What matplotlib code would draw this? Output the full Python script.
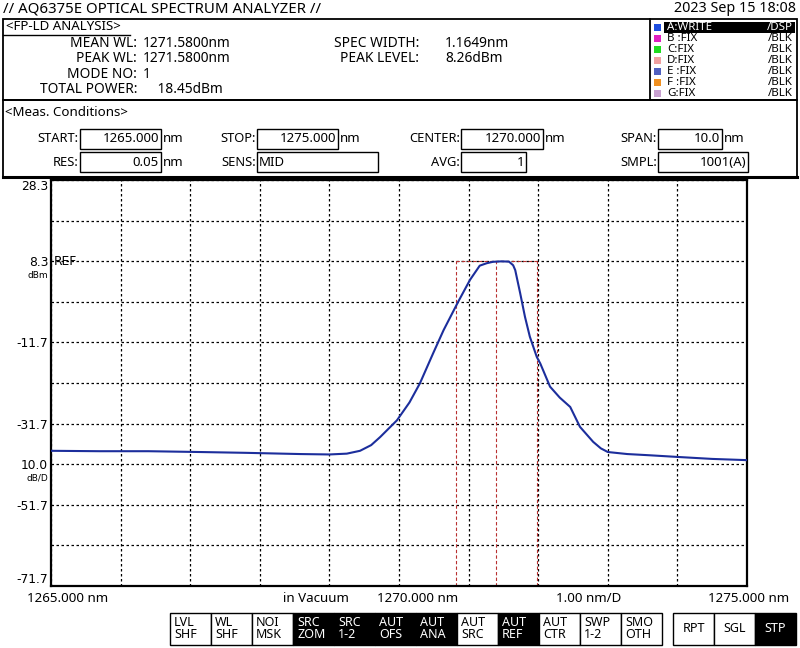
import matplotlib
matplotlib.use("Agg")
import matplotlib.pyplot as plt
from matplotlib.patches import Rectangle

plt.rcParams['font.family'] = ['Noto Sans', 'DejaVu Sans']

# trace A
wavelength_nm = [1265.00, 1265.70, 1266.40, 1267.14, 1267.80, 1268.58, 1269.00, 1269.25,
                 1269.44, 1269.60, 1269.73, 1269.97, 1270.15, 1270.30, 1270.49, 1270.64,
                 1270.85, 1271.02, 1271.16, 1271.26, 1271.35, 1271.47, 1271.58, 1271.64,
                 1271.67, 1271.74, 1271.81, 1271.88, 1271.98, 1272.03, 1272.17, 1272.31,
                 1272.46, 1272.60, 1272.79, 1272.90, 1273.00, 1273.28, 1273.60, 1273.99,
                 1274.50, 1275.00]
level_dbm = [-38.4, -38.5, -38.5, -38.7, -38.9, -39.2, -39.3, -39.1,
             -38.4, -37.0, -35.0, -30.9, -26.5, -21.8, -14.4, -8.7,
             -1.7, 3.7, 7.2, 7.8, 8.15, 8.26, 8.2, 7.3,
             6.1, 0.5, -5.4, -10.3, -15.3, -16.9, -22.6, -25.3,
             -27.6, -32.5, -36.2, -37.8, -38.7, -39.2, -39.5, -39.9,
             -40.4, -40.7]

# analysis markers
marker_left = 1270.82
marker_center = 1271.40
marker_right = 1271.98
marker_level = 8.26

x_start, x_stop = 1265.0, 1275.0
y_top, y_bottom = 28.3, -71.7
y_ticks = [28.3, 18.3, 8.3, -1.7, -11.7, -21.7, -31.7, -41.7, -51.7, -61.7, -71.7]
y_tick_labels = ['28.3', '', '8.3', '', '-11.7', '', '-31.7', '10.0', '-51.7', '', '-71.7']

title = '// AQ6375E OPTICAL SPECTRUM ANALYZER //'
timestamp = '2023 Sep 15 18:08'

analysis_left = [('MEAN WL:', '1271.5800nm'), ('PEAK WL:', '1271.5800nm'),
                 ('MODE NO:', '1'), ('TOTAL POWER:', '    18.45dBm')]
analysis_right = [('SPEC WIDTH:', '1.1649nm'), ('PEAK LEVEL:', '8.26dBm')]

trace_names = ['A:WRITE', 'B :FIX', 'C:FIX', 'D:FIX', 'E :FIX', 'F :FIX', 'G:FIX']
trace_states = ['/DSP', '/BLK', '/BLK', '/BLK', '/BLK', '/BLK', '/BLK']
trace_colors = ['#1f4fe0', '#e020c0', '#20dd20', '#f0a0a0', '#5060c0', '#f09020', '#c8a0d0']

# label, value, unit, label right edge, box left, box right, row, value align
meas_fields = [
    ('START:', '1265.000', 'nm', 78, 80, 161, 0, 'right'),
    ('RES:', '0.05', 'nm', 78, 80, 161, 1, 'right'),
    ('STOP:', '1275.000', 'nm', 256, 257, 338, 0, 'right'),
    ('SENS:', 'MID', '', 256, 257, 378, 1, 'left'),
    ('CENTER:', '1270.000', 'nm', 460, 461, 543, 0, 'right'),
    ('AVG:', '1', '', 460, 461, 526, 1, 'right'),
    ('SPAN:', '10.0', 'nm', 657, 658, 722, 0, 'right'),
    ('SMPL:', '1001(A)', '', 657, 658, 748, 1, 'right'),
]

soft_keys = [('LVL', 'SHF'), ('WL', 'SHF'), ('NOI', 'MSK'), ('SRC', 'ZOM'), ('SRC', '1-2'),
             ('AUT', 'OFS'), ('AUT', 'ANA'), ('AUT', 'SRC'), ('AUT', 'REF'), ('AUT', 'CTR'),
             ('SWP', '1-2'), ('SMO', 'OTH')]
soft_keys_on = [False, False, False, True, True, True, True, False, True, False, False, False]
sweep_keys = ['RPT', 'SGL', 'STP']
sweep_keys_on = [False, False, True]

W, H = 800, 648
fig = plt.figure(figsize=(W / 100, H / 100), dpi=100)
fig.patch.set_facecolor('white')

# overlay in screen pixels
scr = fig.add_axes([0, 0, 1, 1])
scr.set_xlim(0, W)
scr.set_ylim(H, 0)
scr.axis('off')


def box(x0, y0, x1, y1, lw=1.0, fc='none', ec='black'):
    scr.add_patch(Rectangle((x0, y0), x1 - x0, y1 - y0, fill=fc != 'none',
                            facecolor=fc, edgecolor=ec, lw=lw))


def txt(x, y, s, size=8.5, ha='left', color='black', **kw):
    scr.text(x, y, s, fontsize=size, ha=ha, va='center', color=color, **kw)


txt(3, 9, title, size=10.8)
txt(796, 9, timestamp, size=10.3, ha='right')

# analysis panel
box(3, 19, 797, 100, lw=1.3)
scr.plot([650, 650], [19, 100], color='black', lw=1.3)
txt(6, 27, '<FP-LD ANALYSIS>', size=9.6)
scr.plot([3, 130], [34.5, 34.5], color='black', lw=1.0)
for i, (lab, val) in enumerate(analysis_left):
    y = 43.5 + i * 15.3
    txt(137, y, lab, size=9.9, ha='right')
    txt(143, y, val, size=9.9)
for i, (lab, val) in enumerate(analysis_right):
    y = 43.5 + i * 15.3
    txt(419, y, lab, size=9.9, ha='right')
    txt(445, y, val, size=9.9)

for i, (name, state, col) in enumerate(zip(trace_names, trace_states, trace_colors)):
    y = 27.5 + i * 11
    scr.add_patch(Rectangle((654, y - 3.5), 7, 7, facecolor=col, edgecolor='none'))
    fg = 'black'
    if i == 0:
        scr.add_patch(Rectangle((664, y - 5.5), 131, 11, facecolor='black', edgecolor='none'))
        fg = 'white'
    txt(667, y, name, size=8.3, color=fg)
    txt(793, y, state, size=8.3, ha='right', color=fg)

# measurement conditions panel
box(3, 100, 797, 177, lw=1.3)
scr.plot([3, 797], [177, 177], color='black', lw=2.2)
txt(5, 113, '<Meas. Conditions>', size=9.6)
for lab, val, unit, lx, bx0, bx1, row, align in meas_fields:
    yc = 138.5 + row * 23.5
    box(bx0, yc - 10, bx1, yc + 10, lw=1.0)
    txt(lx, yc, lab, size=9.3, ha='right')
    if align == 'right':
        txt(bx1 - 2, yc, val, size=9.5, ha='right')
    else:
        txt(bx0 + 2, yc, val, size=9.5)
    if unit:
        txt(bx1 + 2, yc, unit, size=9.5)

# spectrum
ax = fig.add_axes([51 / W, 1 - 586 / H, 696 / W, 406 / H])
ax.set_xlim(x_start, x_stop)
ax.set_ylim(y_bottom, y_top)
ax.set_xticks([x_start + k for k in range(11)])
ax.set_xticklabels([])
ax.set_yticks(y_ticks)
ax.set_yticklabels(y_tick_labels, fontsize=8.8, family='DejaVu Sans')
ax.tick_params(length=0, pad=2)
ax.grid(True, color='black', linestyle=(0, (2, 2)), lw=0.9)
for s in ax.spines.values():
    s.set_color('black')
    s.set_linewidth(1.6)
labels = ax.get_yticklabels()
labels[0].set_va('top')
labels[-1].set_va('bottom')

red = '#b83030'
ax.plot([marker_left, marker_right], [marker_level, marker_level], color=red,
        lw=0.8, linestyle=(0, (3, 2)))
for xm in (marker_left, marker_center, marker_right):
    ax.plot([xm, xm], [y_bottom, marker_level], color=red, lw=0.8, linestyle=(0, (3, 2)))

ax.plot(wavelength_nm, level_dbm, color='#1c2e9c', lw=1.5, zorder=5)

ax.text(0.004, 8.3, 'REF', transform=ax.get_yaxis_transform(), fontsize=8.8,
        family='DejaVu Sans', ha='left', va='center')
ax.text(-0.004, 8.3 - 2.4, 'dBm', transform=ax.get_yaxis_transform(), fontsize=6.5,
        family='DejaVu Sans', ha='right', va='top')
ax.text(-0.004, -41.7 - 2.4, 'dB/D', transform=ax.get_yaxis_transform(), fontsize=6.5,
        family='DejaVu Sans', ha='right', va='top')

# scale annotations
txt(27, 598, '1265.000 nm', size=9.6)
txt(283, 598, 'in Vacuum', size=9.6)
txt(377, 598, '1270.000 nm', size=9.6)
txt(556, 598, '1.00 nm/D', size=9.6)
txt(789, 598, '1275.000 nm', size=9.6, ha='right')

# soft keys
kx = 170.0
kw = 41.0
for (l1, l2), on in zip(soft_keys, soft_keys_on):
    fc = 'black' if on else 'white'
    fg = 'white' if on else 'black'
    box(kx, 613, kx + kw, 645, lw=1.0, fc=fc)
    txt(kx + 4, 623, l1, size=9, color=fg, fontweight='medium')
    txt(kx + 4, 635, l2, size=9, color=fg, fontweight='medium')
    kx += kw

kx = 673.0
for name, on in zip(sweep_keys, sweep_keys_on):
    fc = 'black' if on else 'white'
    fg = 'white' if on else 'black'
    box(kx, 613, kx + 41, 645, lw=1.0, fc=fc)
    txt(kx + 20.5, 629, name, size=9, ha='center', color=fg, fontweight='medium')
    kx += 41

fig.savefig('out.png', dpi=100, facecolor='white')
